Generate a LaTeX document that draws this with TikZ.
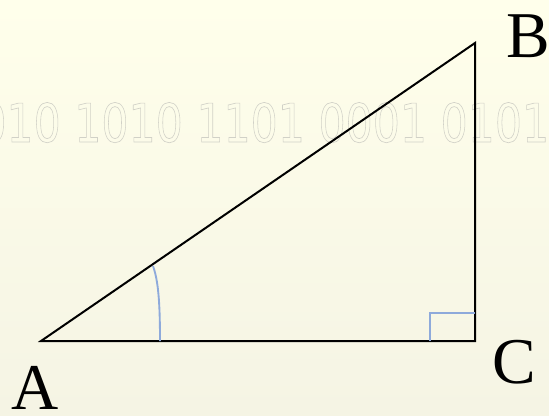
\documentclass[tikz,border=0pt]{standalone}
\usepackage{fontspec}
\setmainfont{Liberation Serif}
\newfontfamily\digitfont{DejaVu Sans}
\usetikzlibrary{positioning}
\definecolor{paper}{HTML}{FFFFEB}
\definecolor{paperlow}{HTML}{F5F4E4}
\definecolor{markblue}{HTML}{8EAADB}
\definecolor{ghost}{HTML}{DADAD2}

\begin{document}
\begin{tikzpicture}[
  x=0.75pt, y=-0.75pt,
  side/.style={draw=black, line width=1.5pt},
  anglemark/.style={draw=markblue, line width=1.4pt},
  vertex/.style={font=\fontsize{49}{52}\selectfont, inner sep=0pt},
  watermark/.style={font=\digitfont\fontsize{40}{44}\selectfont, text=ghost,
                    inner sep=0pt, anchor=base west, xscale=0.8, transform shape}
]
  \shade[top color=paper, bottom color=paperlow] (0,0) rectangle (549,415);
  \useasboundingbox (0,0) rectangle (549,415);
  \node[watermark] (bits) at (-48,142)
    {\special{pdf:code q 1 Tr 0.5 w 0.82 0.82 0.78 RG}0010 1010 1101 0001 0101\special{pdf:code Q}};
  \coordinate (A) at (41,341);
  \coordinate (B) at (475,43);
  \coordinate (C) at (475,341);
  \draw[side] (A) -- (B) -- (C) -- cycle;
  \coordinate (arcup) at (153,266);
  \coordinate (arclow) at (160,341);
  \draw[anglemark] (arcup) .. controls (158,280) and (160,300) .. (arclow);
  \coordinate (sqlow) at (430,341);
  \coordinate (squp) at (475,313);
  \draw[anglemark] (sqlow) |- (squp);
  \node[vertex] (labA) at (35,388) {A};
  \node[vertex] (labB) at (528,36) {B};
  \node[vertex] (labC) at (514,362) {C};
\end{tikzpicture}
\end{document}
